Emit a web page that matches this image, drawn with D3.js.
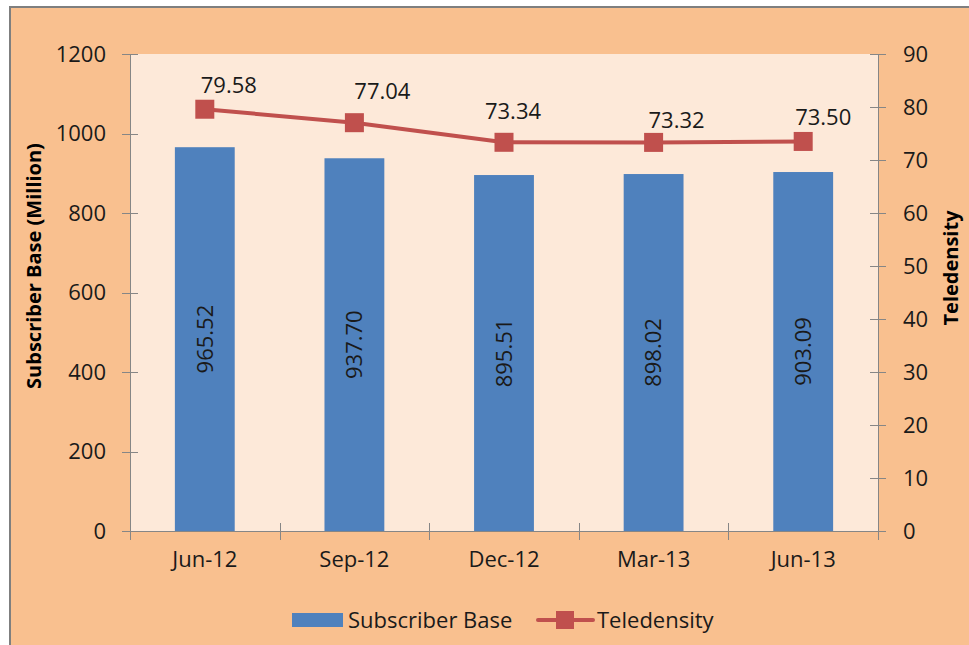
<!DOCTYPE html>
<html>
<head>
<meta charset="utf-8">
<script src="https://cdn.jsdelivr.net/npm/d3@7"></script>
<style>
	html, body { margin:0; padding:0; background:#fff; }
	svg { display:block; font-family:"Open Sans", "Liberation Sans", sans-serif; }
	.axis text { font-family:"Open Sans", "Liberation Sans", sans-serif; font-size:22px; fill:#1a1a1a; }
	.axis path, .axis line { stroke:#868686; stroke-width:1; shape-rendering:crispEdges; }
</style>
</head>
<body>
<svg id="chart" width="969" height="645"></svg>
<script>
// quarters and values
var quarters = ['Jun-12', 'Sep-12', 'Dec-12', 'Mar-13', 'Jun-13'];
var subscriberBase = [965.52, 937.70, 895.51, 898.02, 903.09];
var teledensity = [79.58, 77.04, 73.34, 73.32, 73.50];
var leftTicks = [0, 200, 400, 600, 800, 1000, 1200];
var rightTicks = [0, 10, 20, 30, 40, 50, 60, 70, 80, 90];

// label nudges (dx, dy from the marker) - labels were moved by hand in the original
var lineLabelNudge = [[24, -16], [28, -24], [9, -23], [23, -14], [20, -16]];

var W = 969, H = 645;
var plot = { left:130, top:54, right:878, bottom:531 };
var colors = { frame:'#f9c08f', plot:'#fde9d9', bar:'#4f81bd', line:'#c0504d', border:'#7f7f7f' };

var svg = d3.select('#chart');

// outer frame
svg.append('rect').attr('x', 10).attr('y', 7).attr('width', W).attr('height', H)
	.attr('fill', colors.frame).attr('stroke', colors.border).attr('stroke-width', 2);

// plot area
svg.append('rect').attr('x', plot.left).attr('y', plot.top)
	.attr('width', plot.right - plot.left).attr('height', plot.bottom - plot.top)
	.attr('fill', colors.plot);

var x = d3.scaleBand().domain(quarters).range([plot.left, plot.right]).paddingInner(0.6).paddingOuter(0.3);
var xEdge = d3.scaleLinear().domain([0, quarters.length]).range([plot.left, plot.right]);
var yLeft = d3.scaleLinear().domain([0, 1200]).range([plot.bottom, plot.top]);
var yRight = d3.scaleLinear().domain([0, 90]).range([plot.bottom, plot.top]);
var cx = function(d, i) { return x(quarters[i]) + x.bandwidth() / 2; };

// bars
svg.append('g').selectAll('rect').data(subscriberBase).enter()
	.append('rect')
	.attr('x', function(d, i) { return x(quarters[i]); })
	.attr('y', function(d) { return yLeft(d); })
	.attr('width', x.bandwidth())
	.attr('height', function(d) { return yLeft(0) - yLeft(d); })
	.attr('fill', colors.bar);

// bar labels, rotated inside the bar
svg.append('g').selectAll('text').data(subscriberBase).enter()
	.append('text')
	.attr('transform', function(d, i) {
		return 'translate(' + cx(d, i) + ',' + (yLeft(d) + yLeft(0)) / 2 + ') rotate(-90)';
	})
	.attr('text-anchor', 'middle').attr('dy', '0.35em')
	.style('font-size', '22px').style('fill', '#1a1a1a')
	.text(function(d) { return d.toFixed(2); });

// left axis
var gl = svg.append('g').attr('class', 'axis').attr('transform', 'translate(' + plot.left + ',0)')
	.call(d3.axisLeft(yLeft).tickValues(leftTicks).tickFormat(d3.format('d'))
		.tickSizeOuter(0).tickSizeInner(8).tickPadding(16));
gl.selectAll('.tick line').attr('x1', 8);

// right axis
var gr = svg.append('g').attr('class', 'axis').attr('transform', 'translate(' + plot.right + ',0)')
	.call(d3.axisRight(yRight).tickValues(rightTicks).tickFormat(d3.format('d'))
		.tickSizeOuter(0).tickSizeInner(8).tickPadding(17));
gr.selectAll('.tick line').attr('x1', -8);

// bottom axis: crossing ticks on the category edges, labels centred
var gb = svg.append('g').attr('class', 'axis').attr('transform', 'translate(0,' + plot.bottom + ')')
	.call(d3.axisBottom(xEdge).tickValues(d3.range(quarters.length + 1)).tickFormat('').tickSizeOuter(0).tickSizeInner(9));
gb.selectAll('.tick line').attr('y1', -8);
var gbl = svg.append('g').attr('class', 'axis').attr('transform', 'translate(0,' + plot.bottom + ')')
	.call(d3.axisBottom(x).tickSize(0).tickPadding(20));
gbl.select('.domain').remove();

// teledensity line
var line = d3.line().x(function(d, i) { return cx(d, i); }).y(function(d) { return yRight(d); });
svg.append('path').datum(teledensity)
	.attr('d', line).attr('fill', 'none')
	.attr('stroke', colors.line).attr('stroke-width', 4).attr('stroke-linejoin', 'round');

var ms = 19;
svg.append('g').selectAll('rect').data(teledensity).enter()
	.append('rect')
	.attr('x', function(d, i) { return cx(d, i) - ms / 2; })
	.attr('y', function(d) { return yRight(d) - ms / 2; })
	.attr('width', ms).attr('height', ms)
	.attr('fill', colors.line);

svg.append('g').selectAll('text').data(teledensity).enter()
	.append('text')
	.attr('x', function(d, i) { return cx(d, i) + lineLabelNudge[i][0]; })
	.attr('y', function(d, i) { return yRight(d) + lineLabelNudge[i][1]; })
	.attr('text-anchor', 'middle')
	.style('font-size', '22px').style('fill', '#1a1a1a')
	.text(function(d) { return d.toFixed(2); });

// axis titles
svg.append('text')
	.attr('transform', 'translate(34,266) rotate(-90)')
	.attr('text-anchor', 'middle').attr('dy', '0.35em')
	.style('font-size', '20px').style('font-weight', 'bold')
	.text('Subscriber Base (Million)');
svg.append('text')
	.attr('transform', 'translate(951,268) rotate(-90)')
	.attr('text-anchor', 'middle').attr('dy', '0.35em')
	.style('font-size', '20px').style('font-weight', 'bold')
	.text('Teledensity');

// legend
var lg = svg.append('g').attr('transform', 'translate(0,620)');
lg.append('rect').attr('x', 292).attr('y', -7).attr('width', 51).attr('height', 14).attr('fill', colors.bar);
lg.append('text').attr('x', 348).attr('dy', '0.35em').style('font-size', '22px').style('fill', '#1a1a1a').text('Subscriber Base');
lg.append('line').attr('x1', 538).attr('x2', 593).attr('y1', 0).attr('y2', 0)
	.attr('stroke', colors.line).attr('stroke-width', 4).attr('stroke-linecap', 'round');
lg.append('rect').attr('x', 556).attr('y', -9).attr('width', 18).attr('height', 18).attr('fill', colors.line);
lg.append('text').attr('x', 597).attr('dy', '0.35em').style('font-size', '22px').style('fill', '#1a1a1a').text('Teledensity');
</script>
</body>
</html>
